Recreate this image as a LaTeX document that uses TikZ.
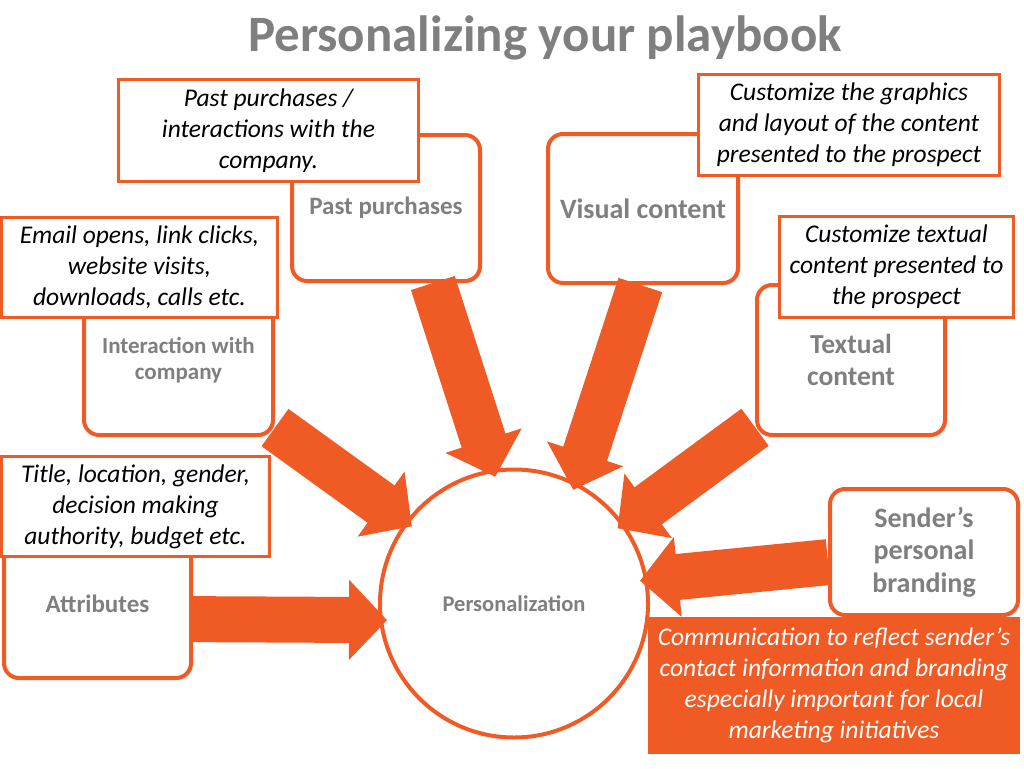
\documentclass[tikz,border=0pt]{standalone}
\usepackage{fontspec}
\setmainfont{Carlito}
\usetikzlibrary{arrows.meta,shadows}
\definecolor{orng}{RGB}{240,90,37}
\definecolor{labgray}{RGB}{127,127,127}
\tikzset{ %1px = 1pt, y grows downwards
  {card/.style} ={draw=orng, line width=4pt, rounded corners=15pt,
                  fill=white, align=center, text=labgray,
                  font=\bfseries\fontsize{#1}{\fpeval{1.15*#1}}\selectfont,
                  drop shadow={shadow xshift=2pt, shadow yshift=-2pt,
                  opacity=.25}},
  card/.default = 25,
  {note/.style} ={draw=orng, line width=3pt, fill=white, align=center,
                  inner sep=2pt, font=\itshape\fontsize{25.5}{31}\selectfont},
  {hotnote/.style} ={note, fill=orng, text=white},
  {hub/.style} ={circle, draw=orng, line width=4pt, fill=white,
                 text=labgray, font=\bfseries\fontsize{22.5}{27}\selectfont},
  {flow/.style} ={orng, line width=46pt,
                  -{Triangle[length=38pt,width=78pt]}, shorten >=-8pt},
}

\begin{document}
\begin{tikzpicture}[x=1pt,y=-1pt]
    \useasboundingbox (0,0) rectangle (1024,768);
    \node[text=labgray, font=\bfseries\fontsize{51}{60}\selectfont]
      (title) at (545,38) {Personalizing your playbook};
    % boxes behind the notes
    \node[card, minimum width=188pt, minimum height=146pt] (past) at (386,208)
      {Past purchases};
    \node[card=23, minimum width=189pt, minimum height=150pt] (interact)
      at (178.5,360) {Interaction with\\ company};
    \node[card=28, minimum width=190pt, minimum height=149pt] (visual)
      at (643,208.5) {Visual content};
    \node[card=27.5, minimum width=188pt, minimum height=150pt] (textual)
      at (851,360) {Textual\\ content};
    \node[card, minimum width=187pt, minimum height=148pt] (attrib)
      at (97.5,604) {Attributes};
    \node[card=28, minimum width=188pt, minimum height=126pt] (sender)
      at (924,552) {Sender’s\\ personal\\ branding};
    \node[hub, minimum size=268pt] (perso) at (514,603.5) {Personalization};
    % arrows into the hub
    \draw[flow] (attrib.-9) -- (perso.187);
    \draw[flow] (interact.-35) -- (perso.143);
    \draw[flow] (past.-58) -- (perso.99);
    \draw[flow] (visual.-92) -- (perso.63);
    \draw[flow] (textual.-145) -- (perso.36);
    \draw[flow] (sender.186) -- (perso.10);
    % notes
    \node[note, minimum width=300pt, minimum height=102pt] (pastnote)
      at (268.5,130.5) {Past purchases /\\ interactions with the\\ company.};
    \node[note, minimum width=276pt, minimum height=100pt] (clicknote)
      at (139.5,267.5) {Email opens, link clicks,\\ website visits,\\
      downloads, calls etc.};
    \node[note, minimum width=301pt, minimum height=101pt] (visnote)
      at (849,125) {Customize the graphics\\ and layout of the content\\
      presented to the prospect};
    \node[note, minimum width=234pt, minimum height=101pt] (textnote)
      at (896.5,267) {Customize textual\\ content presented to\\
      the prospect};
    \node[note, minimum width=268pt, minimum height=100pt] (attrnote)
      at (135.5,506.5) {Title, location, gender,\\ decision making\\
      authority, budget etc.};
    \node[hotnote, minimum width=369pt, minimum height=134pt] (sendnote)
      at (834,685.5) {Communication to reflect sender’s\\ contact information
      and branding\\ especially important for local\\ marketing initiatives};
\end{tikzpicture}
\end{document}
